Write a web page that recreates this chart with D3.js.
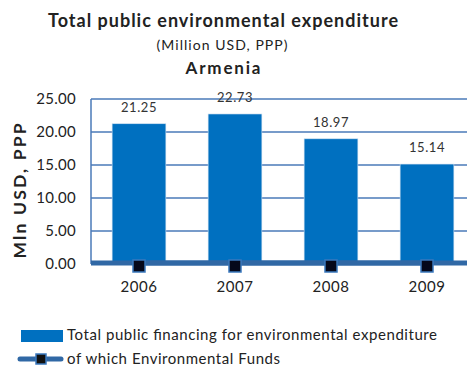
<!DOCTYPE html>
<html><head><meta charset="utf-8">
<script src="https://cdn.jsdelivr.net/npm/d3@7"></script>
<style>body{margin:0;background:#fff;overflow:hidden}svg{display:block}text{font-family:Lato,"Open Sans",sans-serif}</style>
</head><body>
<svg id="c" width="467" height="367"></svg>
<script>
const years = ["2006","2007","2008","2009"];
const totalValues = [21.25, 22.73, 18.97, 15.14];
const fundValues = [0, 0, 0, 0];
const yTicks = [0, 5, 10, 15, 20, 25];

const svg = d3.select("#c");
const pL = 91, pR = 475, pT = 99, pB = 264;
const x = d3.scaleBand().domain(years).range([pL, pR]).paddingInner(0.44).paddingOuter(0.22);
const y = d3.scaleLinear().domain([0, 25]).range([pB, pT]);

const gridColor = "#4a7ab8";
svg.append("g").selectAll("line").data(yTicks.filter(d => d > 0)).join("line")
  .attr("x1", pL).attr("x2", 467).attr("y1", d => y(d)).attr("y2", d => y(d))
  .attr("stroke", gridColor).attr("stroke-width", 1.3);
svg.append("line").attr("x1", pL).attr("x2", pL).attr("y1", pT).attr("y2", pB)
  .attr("stroke", gridColor).attr("stroke-width", 1.5);

svg.append("g").selectAll("rect").data(years).join("rect")
  .attr("x", d => x(d)).attr("width", x.bandwidth())
  .attr("y", (d, i) => y(totalValues[i])).attr("height", (d, i) => y(0) - y(totalValues[i]))
  .attr("fill", "#0070c0").attr("stroke", "#cfe0f0").attr("stroke-width", 0.6);

svg.append("line").attr("x1", pL).attr("x2", 467).attr("y1", pB).attr("y2", pB)
  .attr("stroke", gridColor).attr("stroke-width", 1.5);

svg.append("g").selectAll("text").data(years).join("text")
  .attr("x", d => x(d) + x.bandwidth() / 2).attr("y", (d, i) => y(totalValues[i]) - 12)
  .attr("text-anchor", "middle").attr("font-size", 13).attr("letter-spacing", 0.6).attr("fill", "#333")
  .text((d, i) => totalValues[i].toFixed(2));

const line = d3.line().x((d, i) => x(years[i]) + x.bandwidth() / 2).y(d => y(d) - 1);
svg.append("line").attr("x1", pL).attr("x2", 467).attr("y1", y(0) - 1).attr("y2", y(0) - 1)
  .attr("stroke", "#3068a5").attr("stroke-width", 5);
svg.append("path").datum(fundValues).attr("d", line).attr("fill", "none")
  .attr("stroke", "#3068a5").attr("stroke-width", 5);
svg.append("g").selectAll("rect").data(fundValues).join("rect")
  .attr("x", (d, i) => x(years[i]) + x.bandwidth() / 2 - 6)
  .attr("y", d => y(d) + 2 - 6).attr("width", 12).attr("height", 12)
  .attr("fill", "#05081a").attr("stroke", "#3a78bd").attr("stroke-width", 1.5);

svg.append("g").selectAll("text").data(yTicks).join("text")
  .attr("x", 76).attr("y", d => y(d)).attr("dy", "0.35em").attr("text-anchor", "end")
  .attr("font-size", 15).attr("letter-spacing", 0.3).attr("fill", "#222").text(d => d.toFixed(2));

svg.append("g").selectAll("text").data(years).join("text")
  .attr("x", d => x(d) + x.bandwidth() / 2).attr("y", 287).attr("dy", "0.35em")
  .attr("text-anchor", "middle").attr("font-size", 15).attr("letter-spacing", 0.5).attr("fill", "#222").text(d => d);

svg.append("text").attr("transform", "translate(20,191) rotate(-90)").attr("dy", "0.35em")
  .attr("text-anchor", "middle").attr("font-size", 17.5).attr("font-weight", "bold").attr("fill", "#222")
  .attr("textLength", 135).attr("lengthAdjust", "spacing")
  .text("Mln USD, PPP");

svg.append("text").attr("x", 223).attr("y", 21).attr("dy", "0.35em").attr("text-anchor", "middle")
  .attr("font-size", 18).attr("font-weight", "bold").attr("fill", "#222")
  .attr("textLength", 350).attr("lengthAdjust", "spacing").text("Total public environmental expenditure");
svg.append("text").attr("x", 222).attr("y", 45).attr("dy", "0.35em").attr("text-anchor", "middle")
  .attr("font-size", 14).attr("fill", "#222")
  .attr("textLength", 131).attr("lengthAdjust", "spacing").text("(Million USD, PPP)");
svg.append("text").attr("x", 223).attr("y", 68).attr("dy", "0.35em").attr("text-anchor", "middle")
  .attr("font-size", 17).attr("font-weight", "bold").attr("fill", "#222")
  .attr("textLength", 75).attr("lengthAdjust", "spacing").text("Armenia");

const lg = svg.append("g");
lg.append("rect").attr("x", 21).attr("y", 330).attr("width", 42).attr("height", 12).attr("fill", "#0070c0");
lg.append("text").attr("x", 67).attr("y", 335).attr("dy", "0.35em").attr("font-size", 15).attr("fill", "#222")
  .attr("textLength", 370).attr("lengthAdjust", "spacing")
  .text("Total public financing for environmental expenditure");
lg.append("line").attr("x1", 20).attr("x2", 61).attr("y1", 359).attr("y2", 359)
  .attr("stroke", "#3068a5").attr("stroke-width", 5).attr("stroke-linecap", "round");
lg.append("rect").attr("x", 36).attr("y", 354).attr("width", 10).attr("height", 10)
  .attr("fill", "#111").attr("stroke", "#3a78bd").attr("stroke-width", 1.5);
lg.append("text").attr("x", 67).attr("y", 359).attr("dy", "0.35em").attr("font-size", 15).attr("fill", "#222")
  .attr("textLength", 213).attr("lengthAdjust", "spacing")
  .text("of which Environmental Funds");
</script>
</body></html>
